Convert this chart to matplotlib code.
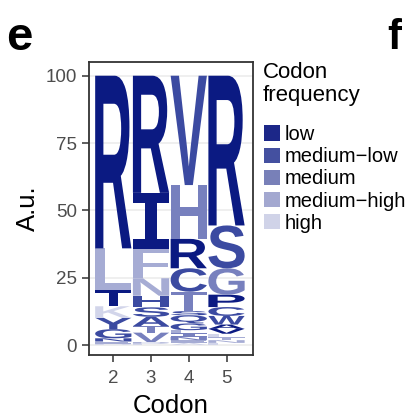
import matplotlib
matplotlib.use("Agg")
import matplotlib.pyplot as plt
from matplotlib.textpath import TextPath
from matplotlib.font_manager import FontProperties
from matplotlib.patches import PathPatch, Patch
from matplotlib.transforms import Affine2D

plt.rcParams['font.family'] = ['Liberation Sans', 'DejaVu Sans']

# frequency levels and their colours
levels = ["low", "medium-low", "medium", "medium-high", "high"]
level_colors = ["#0b1a82", "#3b4aa1", "#7780be", "#a6acd4", "#d2d5ea"]
legend_colors = ["#1c2788", "#4450a0", "#7880b8", "#a3a8d0", "#d0d3e8"]

codons = [2, 3, 4, 5]

# stacks listed bottom -> top
pos2_letters = ["D", "E", "N", "G", "Y", "K", "T", "L", "R"]
pos2_heights = [0.5, 0.8, 1.2, 3.4, 4.2, 4.3, 6.0, 15.5, 64.1]
pos2_levels = ["high", "medium-high", "medium-low", "medium-low", "medium-low",
               "high", "low", "medium-high", "low"]

pos3_letters = ["E", "D", "V", "T", "A", "S", "H", "N", "F", "I", "R"]
pos3_heights = [0.5, 0.6, 3.5, 2.4, 3.5, 3.5, 4.3, 6.5, 11.0, 20.7, 43.5]
pos3_levels = ["high", "medium-high", "medium", "medium", "medium-low", "medium-low",
               "medium-low", "medium-high", "medium-high", "low", "low"]

pos4_letters = ["A", "E", "N", "I", "L", "G", "Q", "S", "T", "C", "R", "H", "V"]
pos4_heights = [0.8, 1.0, 1.2, 1.3, 1.2, 2.5, 3.0, 1.6, 7.2, 8.7, 10.9, 20.0, 40.6]
pos4_levels = ["high", "medium-high", "medium", "medium", "medium-high", "medium-low",
               "medium-low", "medium-low", "medium", "medium-low", "low", "medium",
               "medium-low"]

pos5_letters = ["E", "N", "T", "L", "V", "A", "W", "C", "P", "G", "S", "R"]
pos5_heights = [0.8, 1.0, 1.1, 1.3, 1.8, 1.6, 3.2, 3.3, 4.6, 9.8, 15.9, 55.6]
pos5_levels = ["high", "medium-high", "medium-high", "high", "low", "low",
               "medium-low", "medium-low", "low", "medium", "medium-low", "low"]

stacks = [
    (pos2_letters, pos2_heights, pos2_levels),
    (pos3_letters, pos3_heights, pos3_levels),
    (pos4_letters, pos4_heights, pos4_levels),
    (pos5_letters, pos5_heights, pos5_levels),
]

glyph_font = FontProperties(family="Liberation Sans", weight="bold")
# the logo "I" has slab bars, a plain sans I would be just a block
serif_i_font = FontProperties(family="DejaVu Sans Mono", weight="bold")


def draw_letter(ax, letter, x, bottom, height, width, color):
    prop = serif_i_font if letter == "I" else glyph_font
    tp = TextPath((0, 0), letter, size=1, prop=prop)
    ext = tp.get_extents()
    tr = (Affine2D()
          .translate(-ext.x0, -ext.y0)
          .scale(width / ext.width, height / ext.height)
          .translate(x - width / 2, bottom))
    path = tr.transform_path(tp)
    ax.add_patch(PathPatch(path, facecolor=color, edgecolor="none", lw=0, zorder=3))


fig = plt.figure(figsize=(4.08, 4.17), dpi=100)
ax = fig.add_axes([0.218, 0.1487, 0.401, 0.7033])

for pos, (letters, heights, lvls) in zip(codons, stacks):
    bottom = 0.0
    for letter, h, lv in zip(letters, heights, lvls):
        draw_letter(ax, letter, pos, bottom, h, 0.96, level_colors[levels.index(lv)])
        bottom += h

ax.set_xlim(1.355, 5.69)
ax.set_ylim(-3.7, 105.2)
ax.set_xticks(codons)
ax.set_yticks([0, 25, 50, 75, 100])
ax.set_axisbelow(True)
ax.grid(axis="y", color="#ebebeb", lw=1.1)
ax.tick_params(labelsize=13.5, labelcolor="#4d4d4d", color="#333333",
               length=4.8, width=1.1, pad=4)
ax.tick_params(axis="x", pad=6)
for s in ax.spines.values():
    s.set_color("#333333")
    s.set_linewidth(1.3)
ax.set_xlabel("Codon", fontsize=18.5, labelpad=5)
ax.set_ylabel("A.u.", fontsize=18.5, labelpad=4)

# legend: title as text, keys below it
fig.text(263 / 408, 1 - 62 / 417, "Codon\nfrequency", fontsize=16, va="top",
         ha="left", linespacing=1.12)
handles = [Patch(facecolor=c, edgecolor="none") for c in legend_colors]
leg = fig.legend(handles=handles, labels=[l.replace("-", "\u2212") for l in levels],
                 loc="upper left", bbox_to_anchor=(264 / 408, 1 - 125 / 417),
                 frameon=False, fontsize=14.5, handlelength=0.78,
                 handleheight=0.78, handletextpad=0.25, labelspacing=0.16,
                 borderaxespad=0, borderpad=0)

fig.text(0.015, 1 - 50 / 417, "e", fontsize=34, fontweight="bold")
fig.text(0.948, 1 - 49 / 417, "f", fontsize=30, fontweight="bold")

fig.savefig("out.png", dpi=100)
